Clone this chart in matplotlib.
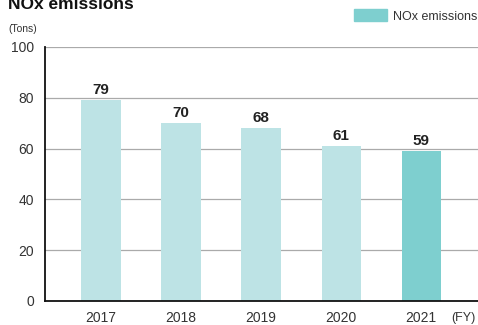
import matplotlib
matplotlib.use('Agg')
import matplotlib.pyplot as plt
from matplotlib.patches import Rectangle

years = ['2017', '2018', '2019', '2020', '2021']
nox = [79, 70, 68, 61, 59]
colors = ['#bde3e5', '#bde3e5', '#bde3e5', '#bde3e5', '#7ecfcf']

plt.rcParams['font.family'] = ['Liberation Sans', 'DejaVu Sans']

fig = plt.figure(figsize=(4.78, 3.25), dpi=100)
ax = fig.add_axes([45 / 478, 24 / 325, 433 / 478, 254 / 325])

x = range(len(years))
ax.bar(x, nox, width=0.49, color=colors, zorder=2)
for i, v in zip(x, nox):
    ax.text(i, v + 1.2, str(v), ha='center', va='bottom', fontsize=11,
            fontweight='bold', color='#222222')

ax.set_ylim(0, 100)
ax.set_xlim(-0.7, 4.71)
ax.set_yticks([0, 20, 40, 60, 80, 100])
ax.set_xticks(list(x))
ax.set_xticklabels(years)
ax.tick_params(axis='both', length=0, labelsize=10, colors='#333333')
ax.tick_params(axis='y', pad=8)
ax.tick_params(axis='x', pad=7)
ax.grid(axis='y', color='#aaaaaa', linewidth=0.9, zorder=0)
for s in ['top', 'right']:
    ax.spines[s].set_visible(False)
ax.spines['left'].set_linewidth(1.3)
ax.spines['bottom'].set_linewidth(1.3)
ax.spines['left'].set_color('#111111')
ax.spines['bottom'].set_color('#111111')

fig.text(8 / 478, 1 - 9 / 325, 'NOx emissions', fontsize=12.5, fontweight='bold',
         va='baseline', ha='left', color='#111111')
fig.text(8 / 478, 1 - 32 / 325, '(Tons)', fontsize=7.5, va='baseline', ha='left',
         color='#333333')
fig.text(476 / 478, 1 - 321 / 325, '(FY)', fontsize=9, va='baseline', ha='right',
         color='#333333')

fig.patches.append(Rectangle((354 / 478, 1 - 21 / 325), 33 / 478, 12 / 325,
                             transform=fig.transFigure, color='#7ecfcf'))
fig.text(393 / 478, 1 - 20 / 325, 'NOx emissions', fontsize=9, va='baseline',
         ha='left', color='#333333')

fig.savefig('out.png', dpi=100)
